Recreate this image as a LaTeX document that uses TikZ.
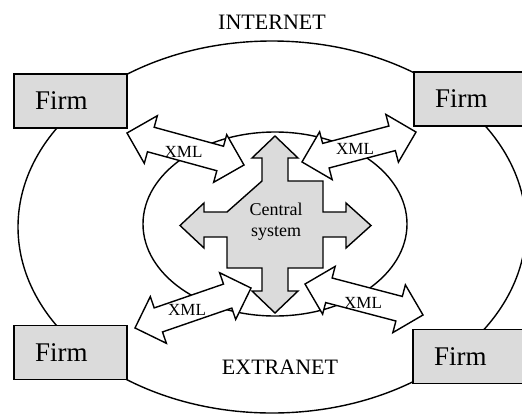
\documentclass[tikz,border=0pt]{standalone}
\usepackage{fontspec}
\setmainfont{Liberation Serif}
\usetikzlibrary{shapes.arrows, positioning}

\begin{document}
\begin{tikzpicture}[
      x=1pt, y=-1pt, line width=1.4pt,
      firm/.style={draw, fill=black!14, minimum height=54pt, text width=71pt,
                   inner xsep=21pt, inner ysep=0pt, align=left,
                   font=\fontsize{27}{30}\selectfont},
      xmlarrow/.style={double arrow, draw, fill=white, inner xsep=0pt, inner ysep=12pt,
                       double arrow head extend=12pt, double arrow tip angle=90},
      tag/.style={font=\fontsize{17}{20}\selectfont},
      net/.style={font=\fontsize{22}{24}\selectfont}
    ]
      \useasboundingbox (0,0) rectangle (522,413);
      \clip (0,0) rectangle (522,413);
      % the two networks
      \draw (272,227) ellipse [x radius=254, y radius=186];
      \draw (275,224) ellipse [x radius=132, y radius=92];
      \node[net] (internet) at (272,22) {INTERNET};
      \node[net] (extranet) at (280,367) {EXTRANET};
      % firms
      \node[firm] (firmtl) at (70.5,101)   {Firm};
      \node[firm] (firmtr) at (470.5,99)   {Firm};
      \node[firm] (firmbl) at (70.5,352.5) {Firm};
      \node[firm] (firmbr) at (469.5,356.5) {Firm};
      % XML links
      \node[xmlarrow, rotate=-15.3, minimum height=121.3pt] (xmltl) at (185.5,149) {};
      \node[xmlarrow, rotate=14.7,  minimum height=117.9pt] (xmltr) at (359,147)   {};
      \node[xmlarrow, rotate=19.0,  minimum height=122.7pt] (xmlbl) at (193,308)   {};
      \node[xmlarrow, rotate=-14.7, minimum height=122.0pt] (xmlbr) at (364,299.5) {};
      \node[tag] at ([xshift=-2pt, yshift=-3pt]xmltl.center) {XML};
      \node[tag] at ([xshift=-4pt, yshift=-2pt]xmltr.center) {XML};
      \node[tag] at ([xshift=-6pt, yshift=-2pt]xmlbl.center) {XML};
      \node[tag] at ([xshift=-1pt, yshift=-3pt]xmlbr.center) {XML};
      % central system
      \draw[fill=black!14] (262,181) -- (262,158) -- (252,158) -- (275,136) -- (298,158)
        -- (288,158) -- (288,181) -- (323,181) -- (323,212) -- (346,212) -- (346,203)
        -- (371,225.5) -- (346,248) -- (346,237) -- (323,237) -- (323,268) -- (288,268)
        -- (288,291) -- (298,291) -- (275,313) -- (252,291) -- (262,291) -- (262,268)
        -- (227,268) -- (227,237) -- (204,237) -- (204,248) -- (180,225.5) -- (204,203)
        -- (204,212) -- (227,212) -- cycle;
      \node[align=center, font=\fontsize{18}{21}\selectfont] (central) at (276,222) {Central\\system};
\end{tikzpicture}
\end{document}
